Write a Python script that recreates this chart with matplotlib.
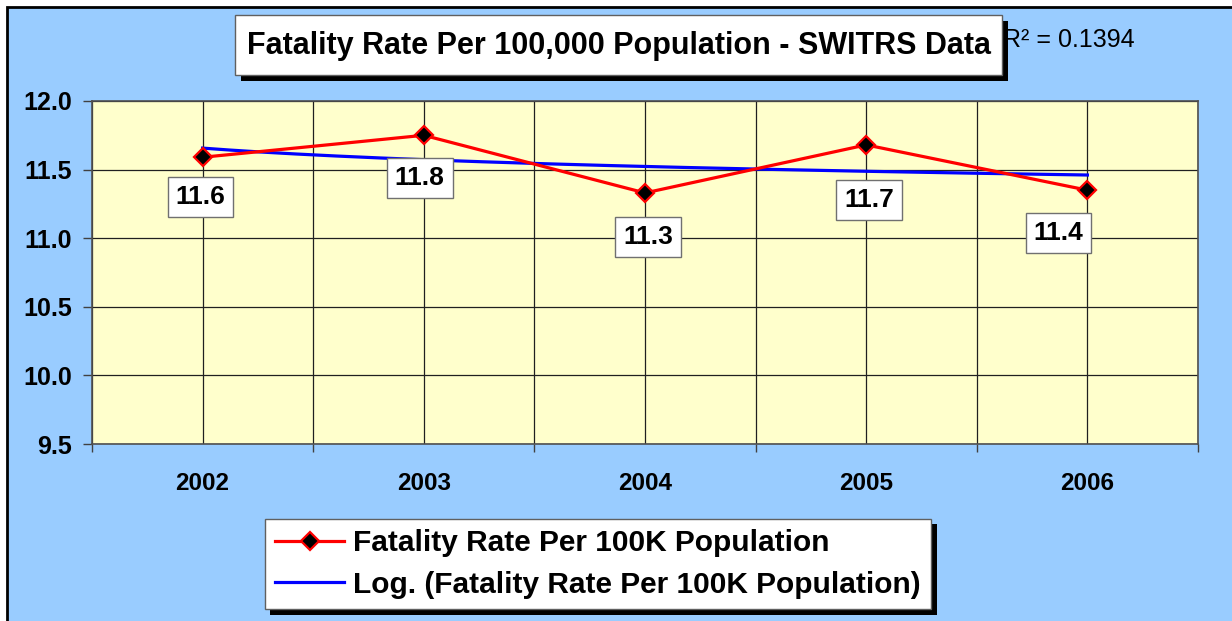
import matplotlib.pyplot as plt
import matplotlib.patheffects as pe
from matplotlib.patches import Rectangle
import numpy as np

plt.rcParams['font.family'] = ['Liberation Sans', 'DejaVu Sans']

years = ['2002', '2003', '2004', '2005', '2006']
rates = [11.59, 11.75, 11.33, 11.68, 11.35]
rate_labels = ['11.6', '11.8', '11.3', '11.7', '11.4']
# label box offsets in pixels (dx, dy) from each point
label_offsets = [(-2, -40), (-4, -43), (3, -44), (3, -55), (-29, -43)]
r2_text = 'R\u00b2 = 0.1394'

BLUE_BG = '#99CCFF'
PLOT_BG = '#FFFFCC'

W, H = 1232, 621
fig = plt.figure(figsize=(W / 100, H / 100), dpi=100, facecolor='white')

# chart area background with border at left/top
bg = Rectangle((7 / W, -0.05), 1.1, 1 - 7 / H + 0.05, transform=fig.transFigure,
               fc=BLUE_BG, ec='black', lw=2, zorder=-10)
fig.patches.append(bg)

ax = fig.add_axes([92 / W, 1 - 444 / H, (1198 - 92) / W, (444 - 101) / H])
ax.set_facecolor(PLOT_BG)

x = np.arange(len(years))
ax.plot(x, rates, color='red', lw=2.3, marker='D', markersize=9.5,
        markerfacecolor='black', markeredgecolor='red', markeredgewidth=1.6,
        zorder=4, label='Fatality Rate Per 100K Population')

# logarithmic trendline (Excel style: y = a*ln(n) + b, n = 1..5)
n = x + 1
a, b = np.polyfit(np.log(n), rates, 1)
nn = np.linspace(1, len(years), 200)
ax.plot(nn - 1, a * np.log(nn) + b, color='#0000FF', lw=2.3, zorder=3,
        label='Log. (Fatality Rate Per 100K Population)')

for xi, yi, lab, (dx, dy) in zip(x, rates, rate_labels, label_offsets):
    ax.annotate(lab, (xi, yi), xytext=(dx, dy), textcoords='offset pixels',
                ha='center', va='center', fontsize=19, fontweight='bold',
                bbox=dict(boxstyle='square,pad=0.3', fc='white', ec='#707070', lw=1),
                zorder=5)

ax.set_xlim(-0.5, len(years) - 0.5)
ax.set_ylim(9.5, 12.0)
ax.set_yticks(np.arange(9.5, 12.01, 0.5))
ax.set_yticklabels([f'{v:.1f}' for v in np.arange(9.5, 12.01, 0.5)])
ax.set_xticks(x)
ax.set_xticklabels(years)
ax.set_xticks(np.arange(-0.5, len(years), 1.0), minor=True)

ax.tick_params(axis='y', length=6.5, width=1, color='#404040', pad=8,
               labelsize=18)
ax.tick_params(axis='x', which='major', length=0, pad=20, labelsize=17.5)
ax.tick_params(axis='x', which='minor', length=6, width=1, color='#404040')
for t in ax.get_xticklabels() + ax.get_yticklabels():
    t.set_fontweight('bold')

ax.grid(True, which='major', color='#202020', lw=0.9)
ax.grid(True, which='minor', axis='x', color='#202020', lw=0.9)
ax.set_axisbelow(True)
for s in ax.spines.values():
    s.set_color('#505050')
    s.set_linewidth(1.2)

shadow = [pe.SimplePatchShadow(offset=(4, -4), shadow_rgbFace='black', alpha=1),
          pe.Normal()]

# title box
tbox = Rectangle((235 / W, 1 - 75 / H), (1002 - 235) / W, 60 / H,
                 transform=fig.transFigure, fc='white', ec='#606060', lw=1,
                 zorder=5)
tbox.set_path_effects(shadow)
fig.patches.append(tbox)
fig.text(619 / W, 1 - 46 / H, 'Fatality Rate Per 100,000 Population - SWITRS Data',
         ha='center', va='center', fontsize=22, fontweight='bold', zorder=6)

fig.text(1003 / W, 1 - 40 / H, r2_text, ha='left', va='center', fontsize=18)

leg = fig.legend(loc='center', bbox_to_anchor=(598 / W, 1 - 564 / H),
                 prop={'weight': 'bold', 'size': 21.5}, frameon=True, fancybox=False,
                 handlelength=2.3, handletextpad=0.3, borderpad=0.35,
                 labelspacing=0.45, borderaxespad=0)
frame = leg.get_frame()
frame.set_facecolor('white')
frame.set_edgecolor('#606060')
frame.set_linewidth(1)
frame.set_alpha(1)
frame.set_path_effects(shadow)

fig.savefig('out.png', dpi=100, facecolor=fig.get_facecolor())
